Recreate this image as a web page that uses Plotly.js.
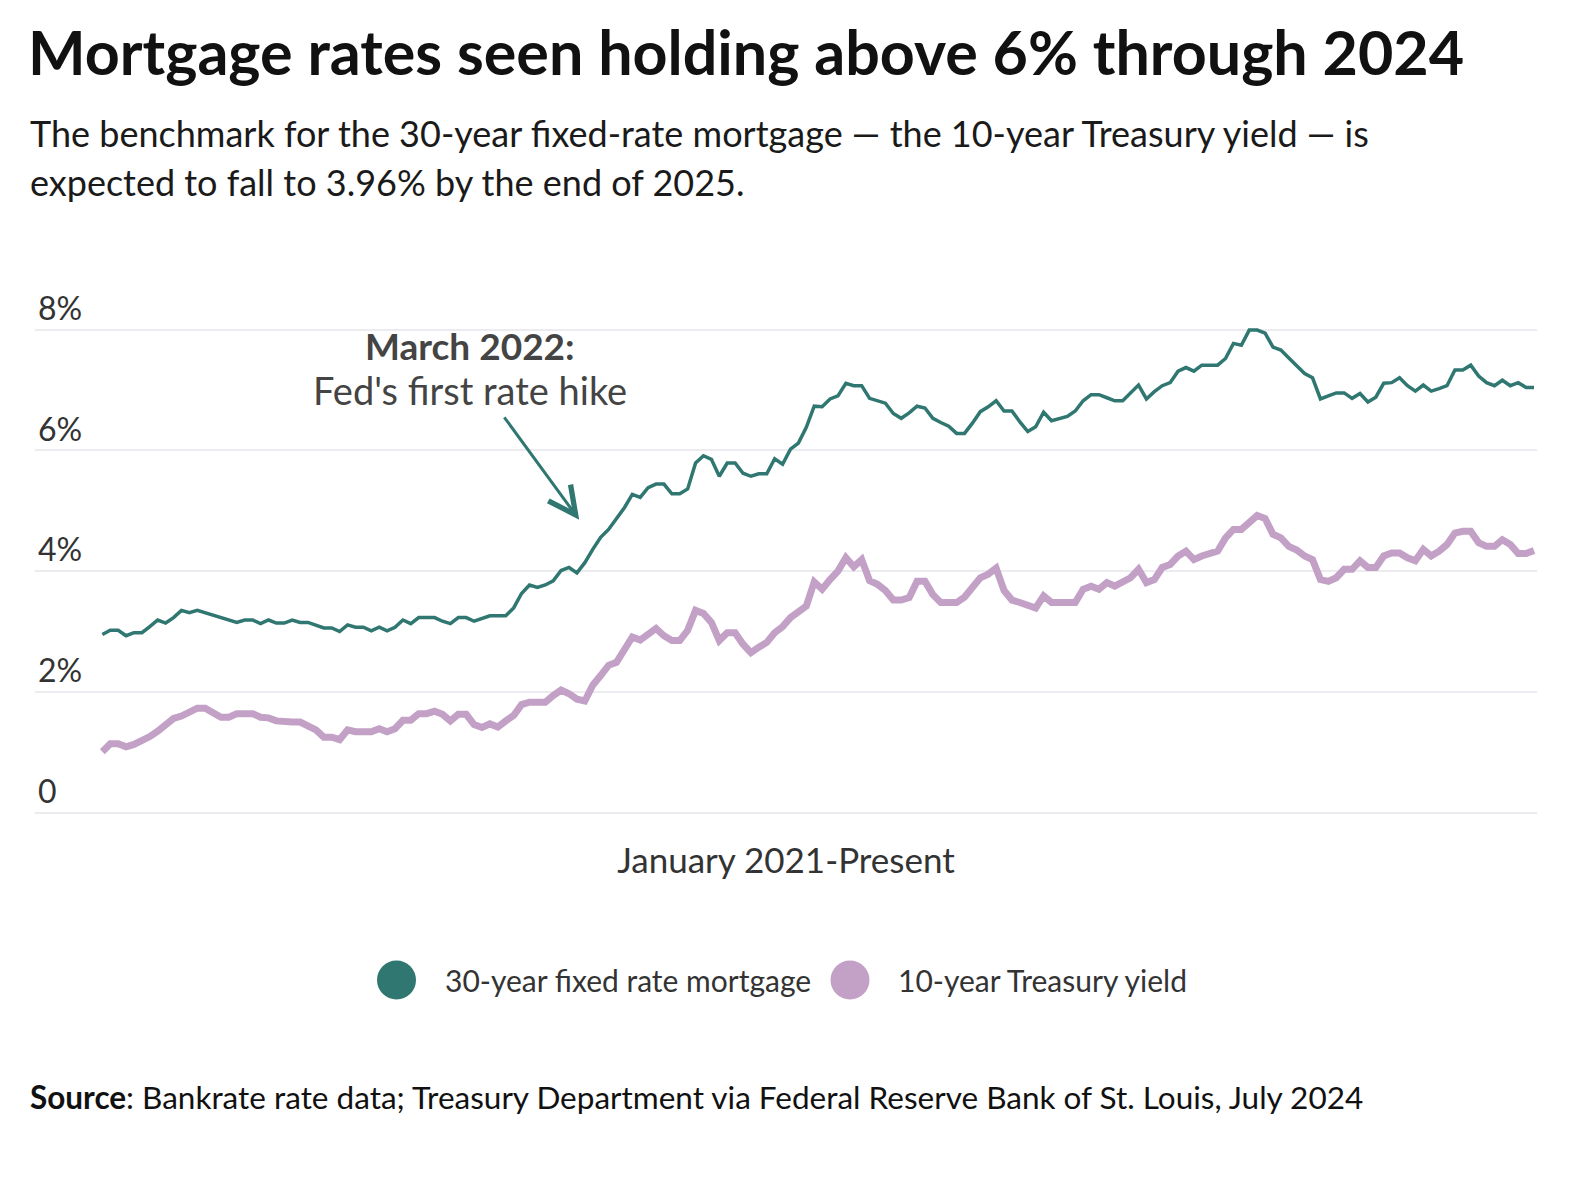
<!DOCTYPE html>
<html><head><meta charset="utf-8">
<script src="https://cdn.plot.ly/plotly-3.0.1.min.js"></script>
<style>html,body{margin:0;padding:0;background:#fff;} #chart{width:1586px;height:1178px;}</style>
</head><body><div id="chart"></div>
<script>
// ---- data (weekly, January 2021 - July 2024) ----
const startDate = '2021-01-07';
const mortgageRate = [
2.95,3.02,3.02,2.93,2.98,2.98,3.08,3.19,3.14,3.23,
3.35,3.31,3.35,3.31,3.27,3.23,3.19,3.15,3.19,3.19,
3.13,3.19,3.14,3.14,3.19,3.15,3.15,3.11,3.06,3.06,
3.00,3.11,3.07,3.07,3.01,3.07,3.01,3.07,3.19,3.13,
3.23,3.23,3.23,3.17,3.13,3.23,3.23,3.17,3.22,3.26,
3.26,3.26,3.39,3.63,3.77,3.73,3.77,3.84,4.01,4.06,
3.97,4.14,4.36,4.56,4.69,4.88,5.05,5.27,5.22,5.38,
5.44,5.44,5.28,5.28,5.36,5.79,5.91,5.85,5.57,5.79,
5.79,5.62,5.57,5.61,5.61,5.86,5.77,6.02,6.12,6.38,
6.73,6.72,6.85,6.90,7.11,7.07,7.07,6.86,6.82,6.78,
6.61,6.53,6.62,6.73,6.70,6.53,6.46,6.40,6.28,6.28,
6.45,6.64,6.72,6.82,6.65,6.65,6.47,6.31,6.39,6.63,
6.49,6.52,6.56,6.65,6.82,6.92,6.92,6.87,6.82,6.82,
6.95,7.08,6.85,6.97,7.07,7.12,7.31,7.37,7.31,7.41,
7.41,7.41,7.52,7.77,7.74,7.99,7.99,7.94,7.71,7.66,
7.53,7.40,7.27,7.20,6.85,6.90,6.95,6.95,6.86,6.94,
6.80,6.88,7.11,7.12,7.20,7.07,6.98,7.08,6.98,7.02,
7.07,7.33,7.33,7.41,7.23,7.12,7.07,7.16,7.07,7.12,
7.04,7.04
];
const treasuryYield = [
1.01,1.14,1.14,1.09,1.13,1.19,1.26,1.35,1.47,1.56,
1.60,1.68,1.73,1.73,1.67,1.58,1.58,1.64,1.64,1.64,
1.58,1.57,1.52,1.50,1.50,1.50,1.43,1.37,1.25,1.25,
1.21,1.37,1.34,1.34,1.34,1.39,1.34,1.39,1.53,1.53,
1.64,1.64,1.68,1.63,1.52,1.63,1.63,1.46,1.41,1.47,
1.42,1.52,1.61,1.79,1.83,1.83,1.83,1.94,2.03,1.97,
1.88,1.85,2.11,2.27,2.44,2.49,2.71,2.91,2.86,2.97,
3.05,2.93,2.85,2.85,3.02,3.35,3.30,3.15,2.85,2.98,
2.98,2.79,2.65,2.74,2.82,2.98,3.08,3.23,3.31,3.42,
3.82,3.70,3.86,4.00,4.22,4.07,4.19,3.84,3.78,3.68,
3.52,3.52,3.56,3.83,3.83,3.61,3.48,3.48,3.48,3.57,
3.74,3.89,3.95,4.05,3.68,3.52,3.48,3.44,3.39,3.59,
3.48,3.48,3.48,3.48,3.70,3.75,3.70,3.81,3.75,3.81,
3.89,4.03,3.81,3.86,4.06,4.11,4.25,4.33,4.19,4.25,
4.29,4.33,4.55,4.69,4.69,4.80,4.92,4.87,4.61,4.55,
4.41,4.35,4.25,4.19,3.86,3.83,3.89,4.03,4.03,4.17,
4.06,4.06,4.25,4.30,4.30,4.22,4.17,4.36,4.25,4.33,
4.44,4.63,4.66,4.66,4.47,4.41,4.41,4.52,4.44,4.29,
4.29,4.34
];
const seriesNames = ['30-year fixed rate mortgage', '10-year Treasury yield'];
const yTickValues = [0, 2, 4, 6, 8];
const yTickLabels = ['0', '2%', '4%', '6%', '8%'];
const annotationDate = '2022-03-05';
const annotationValue = 4.85;

// ---- build weekly date axis ----
const DAY = 864e5;
function weeklyDates(start, n) {
  const d0 = new Date(start + 'T00:00:00Z').getTime();
  const out = [];
  for (let i = 0; i < n; i++) out.push(new Date(d0 + i * 7 * DAY).toISOString().slice(0, 10));
  return out;
}
const weeks = weeklyDates(startDate, mortgageRate.length);
const firstMs = new Date(weeks[0] + 'T00:00:00Z').getTime();
const lastMs = new Date(weeks[weeks.length - 1] + 'T00:00:00Z').getTime();
const xRange = [new Date(firstMs - 59.6 * DAY).toISOString(), new Date(lastMs + 2.65 * DAY).toISOString()];

const FONT = 'Lato, "Open Sans", sans-serif';
const GREEN = '#2f7770';
const PURPLE = '#c3a1c6';

const traces = [
  {x: weeks, y: mortgageRate, name: seriesNames[0], type: 'scatter', mode: 'lines',
   line: {color: GREEN, width: 3.5}, hoverinfo: 'skip', showlegend: false},
  {x: weeks, y: treasuryYield, name: seriesNames[1], type: 'scatter', mode: 'lines',
   line: {color: PURPLE, width: 7}, hoverinfo: 'skip', showlegend: false}
];

const W = 1586, H = 1178, L = 35, R = 49, T = 262, B = 358;
const PW = W - L - R, PH = H - T - B;
const px = v => (v - L) / PW;
const py = v => (H - B - v) / PH;
const PXPERUNIT = 60.4, ZERO_Y = 812.7;
const yRange = [-(H - B - ZERO_Y) / PXPERUNIT, (ZERO_Y - T) / PXPERUNIT];

const legendY = py(980);
const layout = {
  width: W, height: H,
  margin: {l: L, r: R, t: T, b: B},
  paper_bgcolor: '#fff', plot_bgcolor: '#fff',
  font: {family: FONT, color: '#333'},
  title: {text: 'Mortgage rates seen holding above 6% through 2024',
    font: {family: FONT, size: 61, weight: 700, color: '#111'},
    xref: 'container', yref: 'container', x: 28 / W, xanchor: 'left', y: 1 - 54 / H, yanchor: 'middle'},
  xaxis: {type: 'date', range: xRange, showgrid: false, zeroline: false, showline: false,
    showticklabels: false, ticks: '', fixedrange: true,
    title: {text: 'January 2021-Present', font: {family: FONT, size: 35, color: '#333'}, standoff: 28}},
  yaxis: {range: yRange, tickvals: yTickValues, ticktext: yTickLabels,
    ticklabelposition: 'inside', ticklabelshift: -21, ticklabelstandoff: 0, ticks: '',
    tickfont: {family: FONT, size: 32, color: '#333'},
    showgrid: true, gridcolor: '#ebebf0', gridwidth: 2, zeroline: false, showline: false, fixedrange: true},
  shapes: [
    {type: 'circle', xref: 'paper', yref: 'paper', xsizemode: 'pixel', ysizemode: 'pixel',
     xanchor: px(396.5), yanchor: legendY, x0: -19.5, x1: 19.5, y0: -19.5, y1: 19.5,
     fillcolor: GREEN, line: {width: 0}},
    {type: 'circle', xref: 'paper', yref: 'paper', xsizemode: 'pixel', ysizemode: 'pixel',
     xanchor: px(850), yanchor: legendY, x0: -19.5, x1: 19.5, y0: -19.5, y1: 19.5,
     fillcolor: PURPLE, line: {width: 0}}
  ],
  annotations: [
    {xref: 'paper', yref: 'paper', x: px(28), y: py(133), xanchor: 'left', yanchor: 'middle', showarrow: false,
     text: 'The benchmark for the 30-year fixed-rate mortgage \u2014 the 10-year Treasury yield \u2014 is',
     font: {family: FONT, size: 36, color: '#1a1a1a'}},
    {xref: 'paper', yref: 'paper', x: px(28), y: py(182), xanchor: 'left', yanchor: 'middle', showarrow: false,
     text: 'expected to fall to 3.96% by the end of 2025.',
     font: {family: FONT, size: 36, color: '#1a1a1a'}},
    {xref: 'paper', yref: 'paper', x: px(470), y: py(345), xanchor: 'center', yanchor: 'middle', showarrow: false,
     text: '<b>March 2022:</b>', font: {family: FONT, size: 37, color: '#444'}},
    {xref: 'paper', yref: 'paper', x: px(470), y: py(390), xanchor: 'center', yanchor: 'middle', showarrow: false,
     text: "Fed's first rate hike", font: {family: FONT, size: 38, color: '#444'}},
    {xref: 'x', yref: 'y', x: annotationDate, y: annotationValue, text: '', showarrow: true,
     ax: -76, ay: -104, arrowhead: 5, arrowsize: 1.8, arrowwidth: 3, arrowcolor: GREEN, standoff: 0},
    {xref: 'paper', yref: 'paper', x: px(443), y: legendY, xanchor: 'left', yanchor: 'middle', showarrow: false,
     text: seriesNames[0], font: {family: FONT, size: 30, color: '#333'}},
    {xref: 'paper', yref: 'paper', x: px(896), y: legendY, xanchor: 'left', yanchor: 'middle', showarrow: false,
     text: seriesNames[1], font: {family: FONT, size: 30, color: '#333'}},
    {xref: 'paper', yref: 'paper', x: px(28), y: py(1097), xanchor: 'left', yanchor: 'middle', showarrow: false,
     text: '<b>Source</b>: Bankrate rate data; Treasury Department via Federal Reserve Bank of St. Louis, July 2024',
     font: {family: FONT, size: 31.5, color: '#111'}}
  ]
};

Plotly.newPlot('chart', traces, layout, {staticPlot: true, displayModeBar: false});
</script>
</body></html>
